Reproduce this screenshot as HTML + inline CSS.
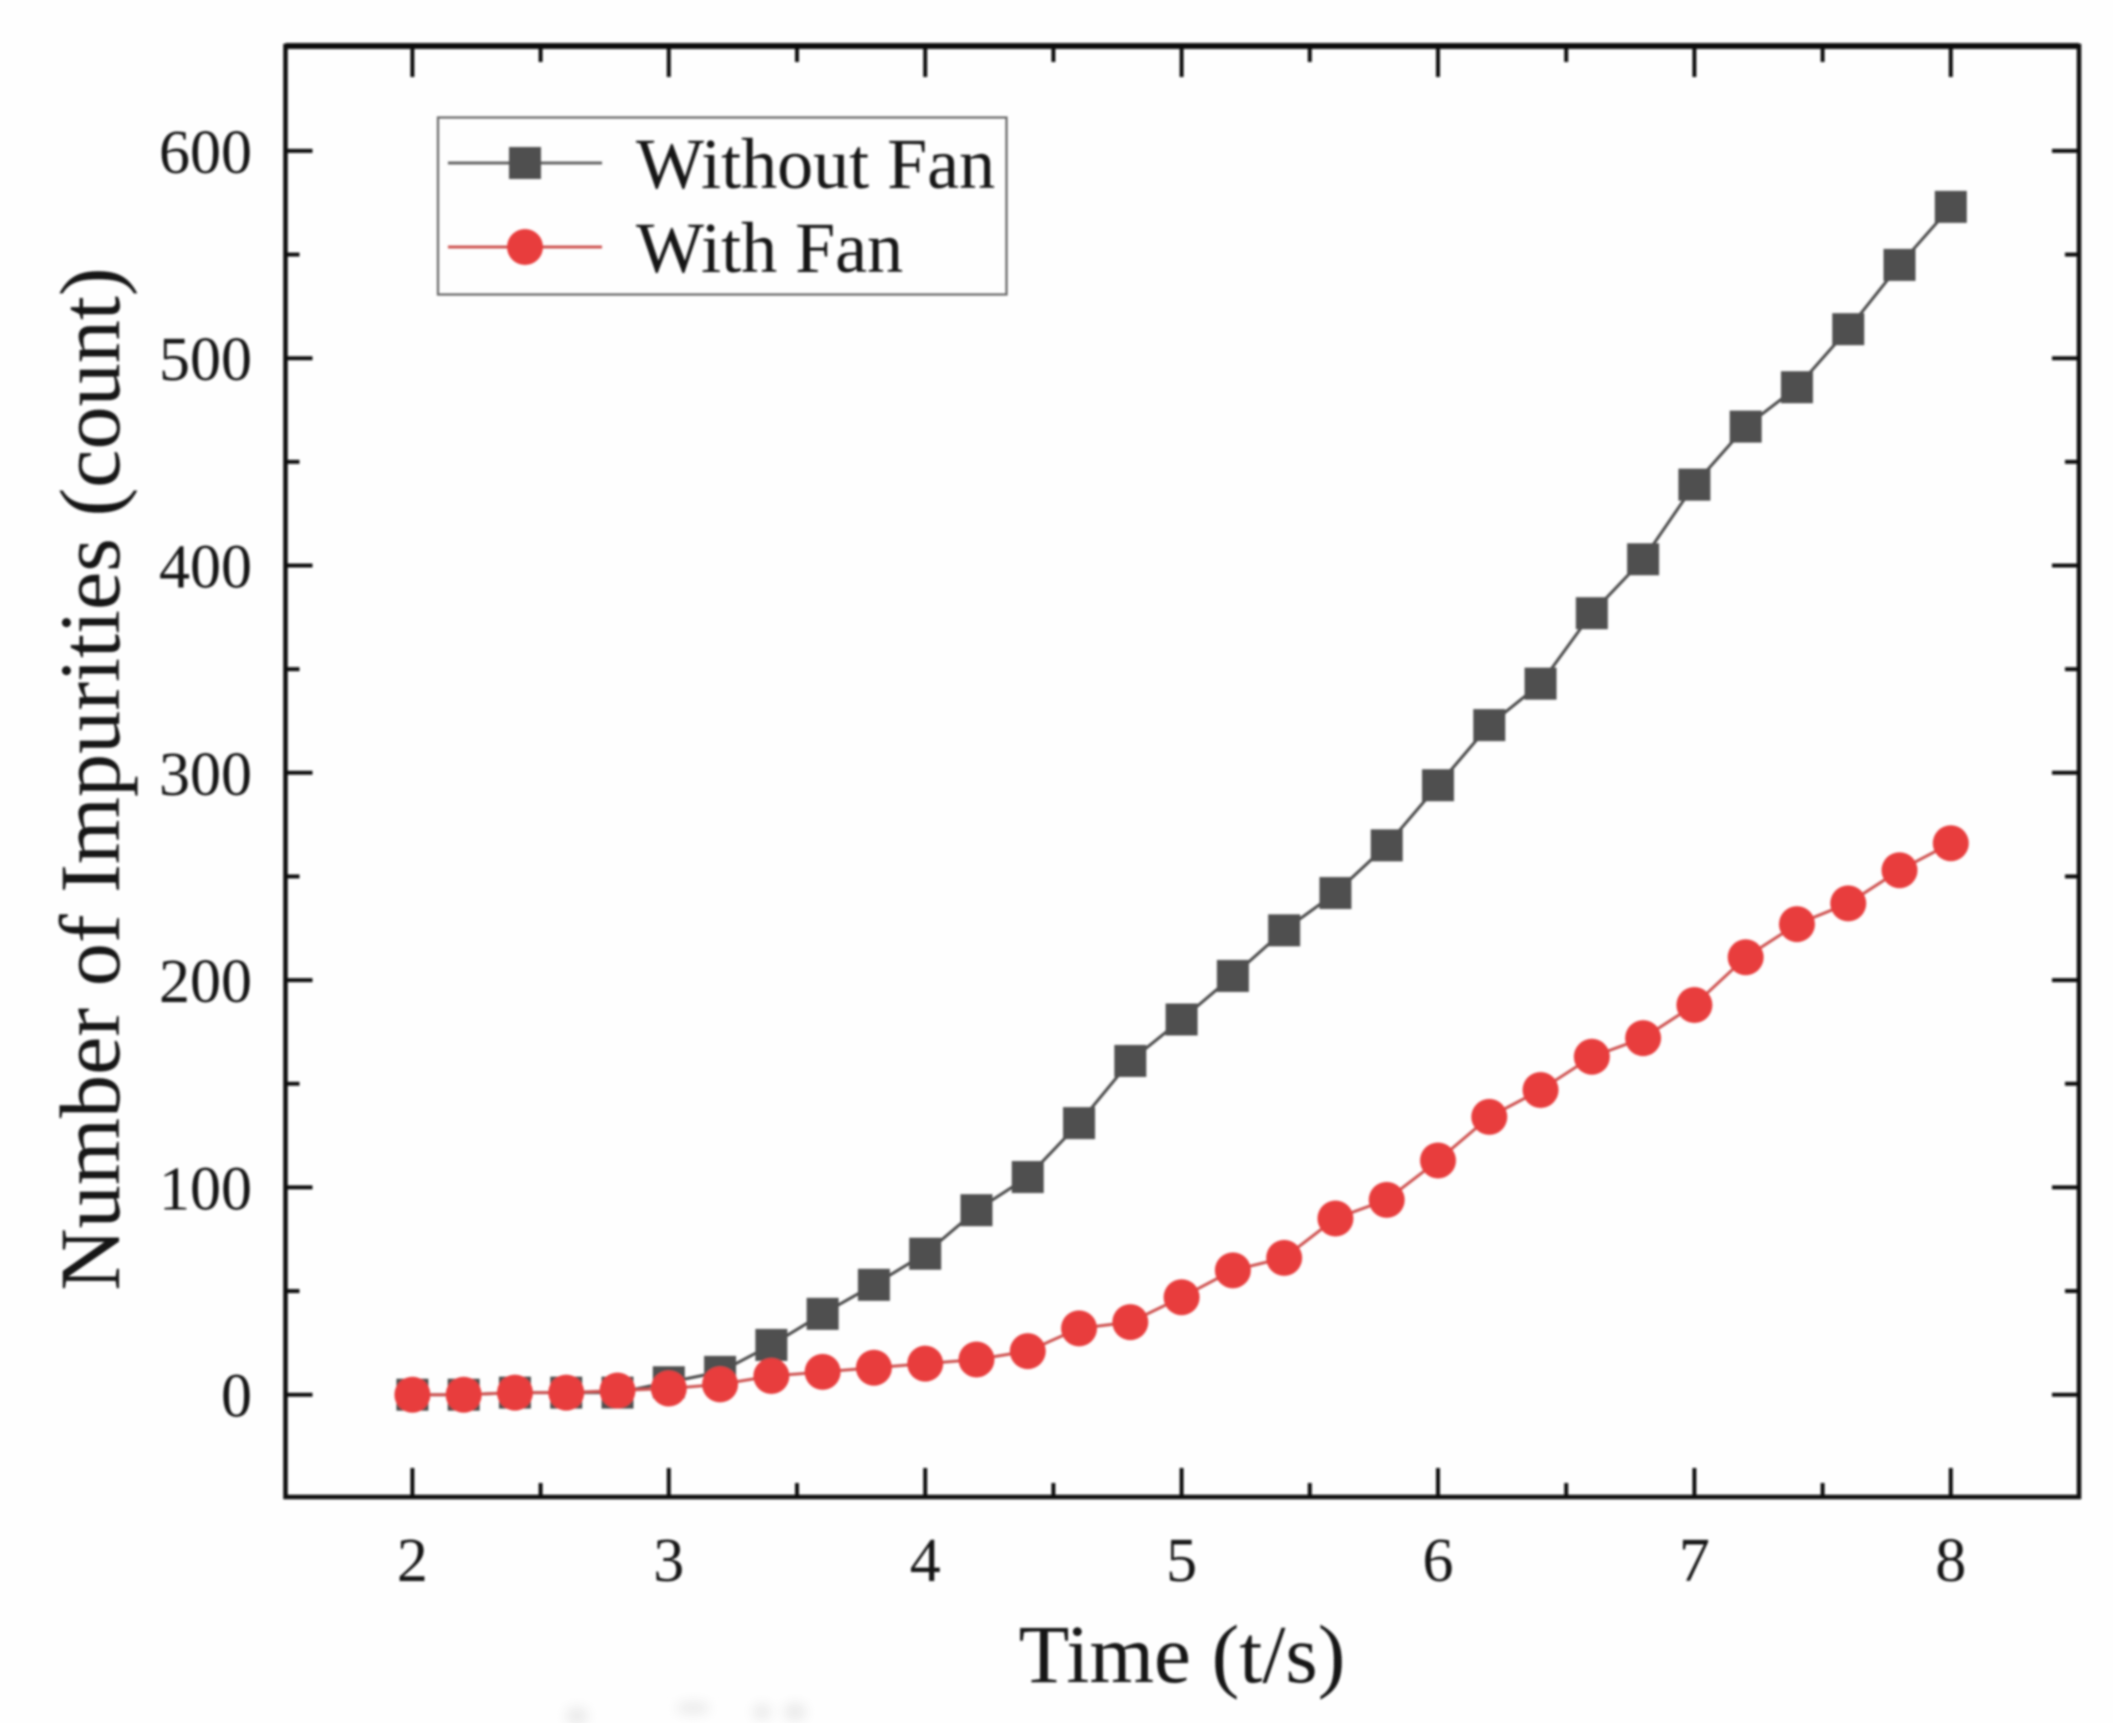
<!DOCTYPE html>
<html lang="en">
<head>
<meta charset="utf-8">
<title>Number of Impurities vs Time</title>
<style>
html,body{margin:0;padding:0;background:#fefefe;}
svg{display:block;}
text{font-family:"Liberation Serif",serif;fill:#161616;}
</style>
</head>
<body>
<svg id="chart" xmlns="http://www.w3.org/2000/svg" width="2113" height="1723" viewBox="0 0 2113 1723">
  <defs>
    <filter id="soft" x="-5%" y="-5%" width="110%" height="110%"><feGaussianBlur stdDeviation="1"/></filter>
    <filter id="smudge" x="-50%" y="-50%" width="200%" height="200%"><feGaussianBlur stdDeviation="6"/></filter>
  </defs>
  <rect width="2113" height="1723" fill="#fefefe"/>
  <g filter="url(#smudge)" fill="#e9e9e9">
    <ellipse cx="577" cy="1716" rx="11" ry="9"/>
    <ellipse cx="693" cy="1708" rx="17" ry="6"/>
    <ellipse cx="762" cy="1712" rx="9" ry="8"/>
    <ellipse cx="795" cy="1712" rx="11" ry="9"/>
  </g>
  <g id="root" filter="url(#soft)"></g>
</svg>
<script>
const timeValues = [2.0,2.2,2.4,2.6,2.8,3.0,3.2,3.4,3.6,3.8,4.0,4.2,4.4,4.6,4.8,5.0,5.2,5.4,5.6,5.8,6.0,6.2,6.4,6.6,6.8,7.0,7.2,7.4,7.6,7.8,8.0];
const withoutFan = [0,0,1,1,1,6,11,24,39,53,68,89,105,131,161,181,202,224,242,265,294,323,343,377,403,439,467,486,514,545,573];
const withFan = [0,0,1,1,2,3,5,9,11,13,15,17,21,32,35,47,60,66,85,94,113,134,147,163,172,188,211,227,237,253,266];
const xMajorTicks = [2,3,4,5,6,7,8];
const xMinorTicks = [2.5,3.5,4.5,5.5,6.5,7.5];
const yMajorTicks = [0,100,200,300,400,500,600];
const yMinorTicks = [50,150,250,350,450,550];

const NS = 'http://www.w3.org/2000/svg';
const root = document.getElementById('root');
const plot = {left:285.5, right:2079, top:46, bottom:1497};
function sx(v){ return 412.4 + (v - 2) * 256.4; }
function sy(v){ return 1394.7 - v * 2.073; }

function make(tag, attrs, parent){
  const el = document.createElementNS(NS, tag);
  for (const k in attrs) el.setAttribute(k, attrs[k]);
  (parent || root).appendChild(el);
  return el;
}

// ticks
const ticks = make('g', {});


function xTick(v, len){
  const x = sx(v);
  const b = make('line', {x1:x, x2:x, y1:plot.bottom, y2:plot.bottom - len, stroke:'#111', 'stroke-width':4}, ticks);
  
  
  const t = make('line', {x1:x, x2:x, y1:plot.top, y2:plot.top + len + 2, stroke:'#111', 'stroke-width':4}, ticks);
  
  
}
function yTick(v, len){
  const y = sy(v);
  const l = make('line', {x1:plot.left, x2:plot.left + len, y1:y, y2:y, stroke:'#111', 'stroke-width':4}, ticks);
  
  
  const r = make('line', {x1:plot.right, x2:plot.right - len, y1:y, y2:y, stroke:'#111', 'stroke-width':4}, ticks);
  
  
}
xMajorTicks.forEach(v => xTick(v, 29));
xMinorTicks.forEach(v => xTick(v, 14));
yMajorTicks.forEach(v => yTick(v, 27));
yMinorTicks.forEach(v => yTick(v, 14));

// frame
const frame = make('path', {d:'M'+plot.left+' '+plot.top+'H'+plot.right+'V'+plot.bottom+'H'+plot.left+'Z', fill:'none', stroke:'#0c0c0c', 'stroke-width':4.5});


const topEdge = make('line', {x1:plot.left, x2:plot.right, y1:plot.top, y2:plot.top, stroke:'#0c0c0c', 'stroke-width':6});



// tick labels
xMajorTicks.forEach(v => {
  const t = make('text', {x:sx(v), y:1581, 'text-anchor':'middle', 'font-size':62});
  
  
  t.textContent = String(v);
});
yMajorTicks.forEach(v => {
  const t = make('text', {x:252, y:sy(v) + 22, 'text-anchor':'end', 'font-size':62});
  
  
  t.textContent = String(v);
});

// axis titles
const xTitle = make('text', {x:1182, y:1682, 'text-anchor':'middle', 'font-size':83});


xTitle.textContent = 'Time (t/s)';

const yTitle = make('text', {transform:'translate(119 779) rotate(-90)', 'text-anchor':'middle', 'font-size':86.3});


yTitle.textContent = 'Number of Impurities (count)';

// series
function points(vals){
  return vals.map((v, i) => sx(timeValues[i]) + ',' + sy(v)).join(' ');
}
const blackGroup = make('g', {});


const blackLine = make('polyline', {points:points(withoutFan), fill:'none', stroke:'#4d4d4d', 'stroke-width':3}, blackGroup);


withoutFan.forEach((v, i) => {
  const m = make('rect', {x:sx(timeValues[i]) - 16, y:sy(v) - 16, width:32, height:32, fill:'#505050'}, blackGroup);
  
  
});

const redGroup = make('g', {});


const redLine = make('polyline', {points:points(withFan), fill:'none', stroke:'#cf5453', 'stroke-width':3}, redGroup);


withFan.forEach((v, i) => {
  const m = make('circle', {cx:sx(timeValues[i]), cy:sy(v), r:18, fill:'#e83c3c'}, redGroup);
  
  
});

// legend
const legend = make('g', {});


const box = make('rect', {x:438, y:117.5, width:568.5, height:177, fill:'none', stroke:'#666', 'stroke-width':2.2}, legend);



const l1 = make('line', {x1:448, x2:602, y1:163, y2:163, stroke:'#666', 'stroke-width':3}, legend);


const m1 = make('rect', {x:509, y:147, width:32, height:32, fill:'#505050'}, legend);


const t1 = make('text', {x:636, y:188, 'font-size':72}, legend);


t1.textContent = 'Without Fan';

const l2 = make('line', {x1:448, x2:602, y1:247, y2:247, stroke:'#cf5453', 'stroke-width':3}, legend);


const m2 = make('circle', {cx:525, cy:247, r:18, fill:'#e83c3c'}, legend);


const t2 = make('text', {x:636, y:272, 'font-size':72}, legend);


t2.textContent = 'With Fan';
</script>
</body>
</html>
